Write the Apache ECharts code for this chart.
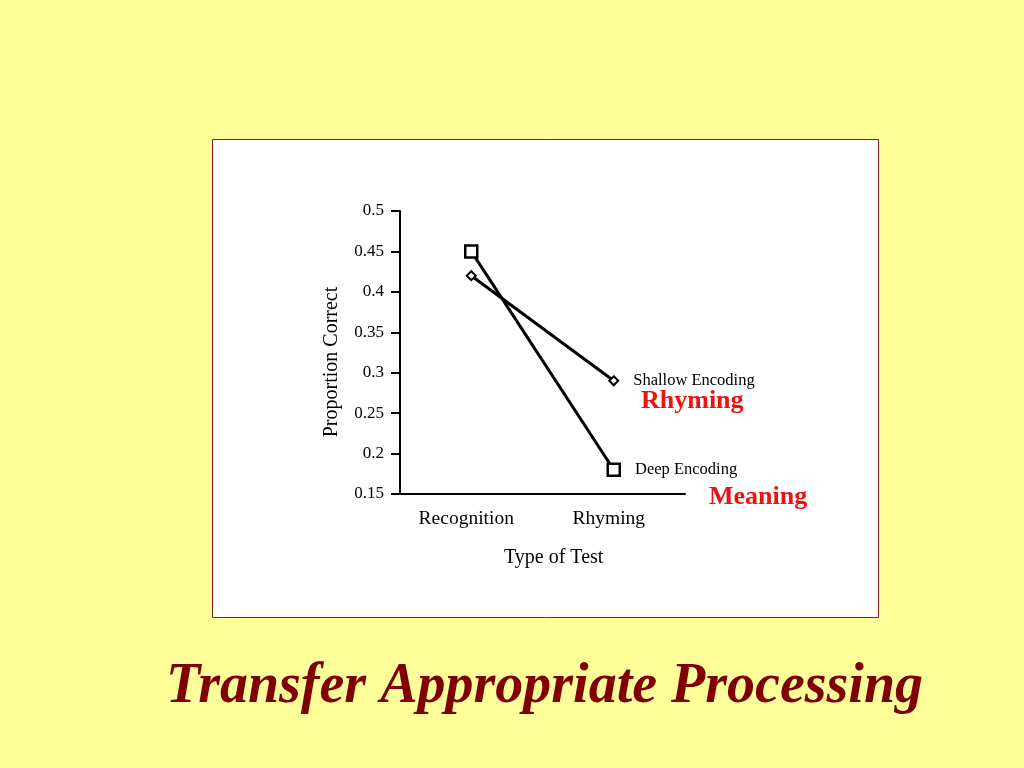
<!DOCTYPE html>
<html><head><meta charset="utf-8">
<script src="https://cdn.jsdelivr.net/npm/echarts@6/dist/echarts.min.js"></script>
<style>html,body{margin:0;padding:0;background:#ffff99;}#c{width:1024px;height:768px;}</style>
</head><body><div id="c"></div>
<script>
const categories = ['Recognition', 'Rhyming'];
const deepEncoding = [0.45, 0.18];
const shallowEncoding = [0.42, 0.29];
const yTicks = [0.15, 0.2, 0.25, 0.3, 0.35, 0.4, 0.45, 0.5];
const seriesNames = ['Deep Encoding', 'Shallow Encoding'];

const serif = '"Liberation Serif", "DejaVu Serif", serif';
const chart = echarts.init(document.getElementById('c'));

function endLabelData(vals, name) {
  return vals.map((v, i) => i === vals.length - 1
    ? { value: v, label: { show: true, position: 'right', distance: 14, formatter: name,
        fontFamily: serif, fontSize: 16.5, color: '#000' } }
    : v);
}

chart.setOption({
  backgroundColor: '#ffff99',
  animation: false,
  graphic: [
    { type: 'rect', z: -10, shape: { x: 212.5, y: 139.5, width: 666, height: 478 },
      style: { fill: '#ffffff', stroke: '#8b1a1a', lineWidth: 1 } },
    { type: 'text', x: 166, y: 688,
      style: { text: 'Transfer Appropriate Processing', fill: '#800000', textVerticalAlign: 'middle',
        font: 'italic bold 56px ' + serif } },
    { type: 'text', x: 641, y: 401,
      style: { text: 'Rhyming', fill: '#ee1111', textVerticalAlign: 'middle', font: 'bold 26px ' + serif } },
    { type: 'text', x: 709, y: 497,
      style: { text: 'Meaning', fill: '#ee1111', textVerticalAlign: 'middle', font: 'bold 26px ' + serif } },
    { type: 'text', x: 504, y: 558,
      style: { text: 'Type of Test', fill: '#000', textVerticalAlign: 'middle', font: '20px ' + serif } },
    { type: 'text', x: 332, y: 362, rotation: Math.PI / 2,
      style: { text: 'Proportion Correct', fill: '#000', textAlign: 'center', textVerticalAlign: 'middle',
        font: '20px ' + serif } }
  ],
  grid: { left: 400, right: 339, top: 211, bottom: 274, containLabel: false },
  xAxis: {
    type: 'category', data: categories, boundaryGap: true,
    axisLine: { lineStyle: { color: '#000', width: 2 } },
    axisTick: { alignWithLabel: true, length: 7, lineStyle: { width: 2, color: '#000' } },
    axisLabel: { color: '#000', fontFamily: serif, fontSize: 19.5, margin: 15, padding: [0, 10, 0, 0] }
  },
  yAxis: {
    type: 'value', min: 0.15, max: 0.5, interval: 0.05,
    splitLine: { show: false },
    axisLine: { show: true, lineStyle: { color: '#000', width: 2 } },
    axisTick: { show: true, length: 9, lineStyle: { width: 2, color: '#000' } },
    axisLabel: { color: '#000', fontFamily: serif, fontSize: 17, margin: 16,
      formatter: v => String(Math.round(v * 100) / 100) }
  },
  series: [
    { name: seriesNames[0], type: 'line', data: endLabelData(deepEncoding, seriesNames[0]),
      symbol: 'rect', symbolSize: 12,
      lineStyle: { color: '#000', width: 3 },
      itemStyle: { color: '#fff', borderColor: '#000', borderWidth: 2.5 } },
    { name: seriesNames[1], type: 'line', data: endLabelData(shallowEncoding, seriesNames[1]),
      symbol: 'diamond', symbolSize: 9,
      lineStyle: { color: '#000', width: 3 },
      itemStyle: { color: '#fff', borderColor: '#000', borderWidth: 2 } }
  ]
});
</script></body></html>
